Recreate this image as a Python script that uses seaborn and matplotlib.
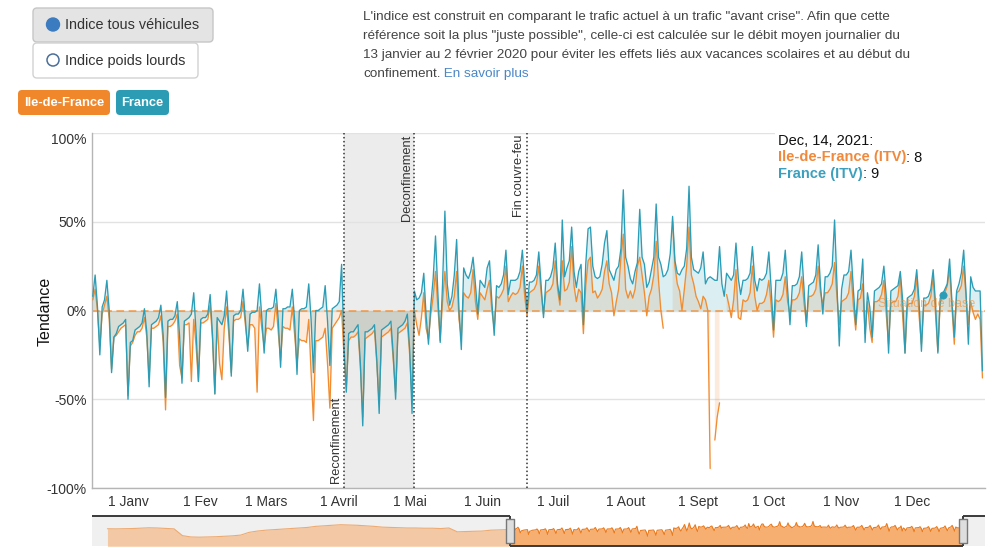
# -------------------------------------------------------
# Indice de trafic routier 2021 : Ile-de-France / France
# -------------------------------------------------------
import numpy as np
import pandas as pd
import matplotlib
matplotlib.use("Agg")
import matplotlib.pyplot as plt
import matplotlib.transforms as mtransforms
from matplotlib.patches import FancyBboxPatch, Circle, Rectangle
from matplotlib.path import Path
import seaborn as sns

# ✅ Daily index (%), one row per week (Mon..Sun), first row starts Thu 2020-12-17
START_DATE = "2020-12-17"

FRANCE_Q1 = [
    8, 20, 2, -25,
    2, 6, 17, 0, -35, -15, -13,
    -9, -8, -7, -5, -50, -18, -17,
    -11, -10, -9, -7, 1, -12, -43,
    -8, -7, -6, -4, 3, -14, -49,
    -6, -5, -5, -3, 5, -15, -41,
    -6, -5, -4, -2, 10, -12, -40,
    -5, -4, -4, -2, 9, -14, -47,
    -4, -6, -8, -3, 11, -10, -37,
    -3, -2, -2, 0, 12, -5, -23,
    -2, -1, -1, 0, 15, -4, -24,
    0, 1, 1, 2, 12, -5, -32,
    1, 1, 2, 2, 12, -6, -36,
    0, 1, 1, 2, 15, -5, -35,
    0, 0, 1, 2, 14, -6, -31,
]
FRANCE_Q2 = [
    1, 2, 3, 5, 26, -20, -46,
    -13, -12, -12, -10, -8, -30, -65,
    -12, -12, -11, -10, -8, -28, -58,
    -11, -10, -9, -8, -6, -25, -50,
    -10, -9, -8, -6, -2, -22, -58,
    11, 6, 7, 10, 21, -3, -19,
    3, 18, 42, 10, -18, 15, 56,
    15, 3, 8, 20, 40, 0, -22,
    24, 20, 18, 22, 30, 15, -2,
    17, 15, 13, 24, 28, 5, -14,
    14, 13, 15, 20, 34, 9, 17,
    17, 17, 18, 22, 34, 15, 0,
    16, 16, 17, 20, 33, 14, -4,
]
FRANCE_Q3 = [
    17, 17, 19, 24, 38, 15, 6,
    51, 19, 24, 28, 47, 22, 13,
    22, 26, -8, 26, 46, 47, 25,
    19, 18, 19, 26, 38, 45, 23,
    20, 17, 23, 25, 35, 68, 30,
    25, 18, 15, 22, 27, 57, 30,
    26, 13, 16, 23, 30, 60, 30,
    26, 19, 20, 23, 32, 53, 28,
    21, 20, 23, 25, 35, 70, 30,
    23, 22, 21, 24, 33, 15, 18,
    19, 18, 17, 17, 36, 15, 8,
    21, 19, 17, 20, 38, 18, 9,
    17, 17, 18, 21, 36, 17, 11,
]
FRANCE_Q4 = [
    18, 17, 18, 21, 33, 12, -11,
    17, 17, 17, 21, 34, 12, -8,
    14, 14, 15, 19, 33, 12, -9,
    14, 15, 16, 20, 37, 14, -2,
    19, 19, 21, 25, 51, 15, -20,
    12, 20, 20, 22, 34, 12, -8,
    11, 12, 29, -18, 10, 2, -15,
    11, 12, 13, 15, 25, 8, -24,
    11, 12, 13, 14, 22, 6, -24,
    7, 8, 9, 12, 23, 5, -23,
    7, 7, 8, 12, 23, 4, -24,
    7, 9, 12, 15, 29, 5, -15,
    11, 15, 21, 34, 10, -19, 19,
    13, 11, 11, 11, -34,
]

IDF_Q1 = [
    6, 12, 0, -20,
    -2, 3, 8, -5, -33, -15, -14,
    -12, -10, -9, -8, -48, -20, -18,
    -14, -12, -12, -10, -4, -15, -38,
    -10, -10, -9, -8, -3, -18, -56,
    -9, -9, -8, -6, -2, -31, -38,
    -8, -8, -7, -40, -5, -20, -40,
    -7, -7, -6, -5, 3, -16, -47,
    -6, -30, -39, -10, 2, -14, -35,
    -6, -5, -5, -4, 5, -8, -20,
    -8, -8, -10, -46, 2, -10, -20,
    -10, -10, -11, -9, 4, -12, -28,
    -9, -10, -10, -11, 2, -14, -30,
    -16, -17, -17, -18, -5, -35, -62,
    -17, -17, -16, -15, -10, -30, -55,
]
IDF_Q2 = [
    -10, -8, -6, -4, 0, -25, -43,
    -17, -15, -15, -14, -12, -32, -60,
    -16, -15, -14, -13, -11, -30, -52,
    -15, -14, -13, -12, -10, -28, -46,
    -13, -12, -11, -10, -7, -25, -50,
    0, -8, -14, -4, 10, -10, -16,
    -2, 8, 22, 2, -17, 5, 22,
    5, 0, 2, 8, 22, -5, -15,
    10, 8, 7, 10, 23, 5, -5,
    10, 8, 6, 12, 17, 0, -10,
    8, 7, 9, 12, 25, 5, 8,
    10, 9, 10, 13, 25, 8, -3,
    10, 11, 12, 15, 25, 10, -2,
]
IDF_Q3 = [
    10, 11, 12, 15, 28, 12, 3,
    28, 11, 12, 16, 36, 14, 5,
    12, 10, -13, 14, 28, 30, 10,
    11, 7, 9, 12, 22, 28, 15,
    10, -3, 5, 12, 30, 43, 12,
    7, 11, 7, 12, 25, 30, 20,
    10, -3, 8, 12, 20, 39, 17,
    0, -10, np.nan, np.nan, np.nan, 50, 25,
    15, 11, 0, 12, 25, 47, 20,
    15, 8, 5, 1, 8, 6, 0,
    -89, np.nan, -73, -60, -52, np.nan, np.nan,
    9, 3, -4, 6, 23, -4, -5,
    6, 5, 6, 10, 25, 8, 0,
]
IDF_Q4 = [
    4, 4, 5, 9, 17, 3, -15,
    6, 5, 6, 9, 19, 5, -2,
    6, 6, 7, 10, 19, 4, -7,
    8, 8, 9, 12, 25, 10, 4,
    10, 10, 12, 15, 27, 8, -8,
    5, 6, 7, 10, 22, 3, -11,
    6, 7, 15, -13, 5, -10, -18,
    5, 5, 6, 9, 17, -2, -19,
    4, 5, 5, 8, 19, -3, -24,
    3, 4, 4, 8, 19, -3, -19,
    3, 3, 4, 8, 19, -2, -23,
    4, 8, 10, 14, 23, 2, -19,
    10, 11, 14, 25, 8, -8, 5,
    -1, -5, -2, -5, -38,
]

# ✅ Range-selector overview for 2020 (weekly, from 2020-01-13)
NAV_START_2020 = "2020-01-13"
NAV_2020 = [
    3, 2, 3, 5, 8, 12, 10, 6, 2, -60, -72, -74, -72, -70, -66, -62, -55,
    -30, -18, -10, -5, 0, 5, 10, 15, 25, 30, 35, 40, 38, 35, 30, 25, 18,
    15, 12, 10, 10, 8, 8, 5, 10, -25, -22, -20, -18, -10, -8, -5,
]

EVENT_DATES = ["2021-04-03", "2021-05-03", "2021-06-20"]
EVENT_LABELS = ["Reconfinement", "Deconfinement", "Fin couvre-feu"]
LOCKDOWN = ("2021-04-03", "2021-05-03")

MONTH_TICKS = ["2021-01-01", "2021-02-01", "2021-03-01", "2021-04-01", "2021-05-01", "2021-06-01",
               "2021-07-01", "2021-08-01", "2021-09-01", "2021-10-01", "2021-11-01", "2021-12-01"]
MONTH_LABELS = ["1 Janv", "1 Fev", "1 Mars", "1 Avril", "1 Mai", "1 Juin",
                "1 Juil", "1 Aout", "1 Sept", "1 Oct", "1 Nov", "1 Dec"]
Y_TICKS = [-100, -50, 0, 50, 100]

HIGHLIGHT_DATE = "2021-12-14"

PARAGRAPH = [
    "L'indice est construit en comparant le trafic actuel à un trafic \"avant crise\". Afin que cette",
    "référence soit la plus \"juste possible\", celle-ci est calculée sur le débit moyen journalier du",
    "13 janvier au 2 février 2020 pour éviter les effets liés aux vacances scolaires et au début du",
    "confinement.",
]

# -------------------------------------------------------
# 📌 SETUP
# -------------------------------------------------------
sns.set_theme(style="white")
plt.rcParams["font.family"] = ["Liberation Sans", "DejaVu Sans"]

ORANGE = "#f28c30"
TEAL = "#2b9db6"
W, H = 999, 548

france = np.array(FRANCE_Q1 + FRANCE_Q2 + FRANCE_Q3 + FRANCE_Q4, dtype=float)
idf = np.array(IDF_Q1 + IDF_Q2 + IDF_Q3 + IDF_Q4, dtype=float)
dates = pd.date_range(START_DATE, periods=len(france), freq="D")

df = pd.DataFrame({"date": dates, "France": france, "Ile-de-France": idf})
long = df.melt(id_vars="date", var_name="serie", value_name="indice")
long["seg"] = long.groupby("serie")["indice"].transform(lambda s: s.isna().cumsum())
long = long.dropna()

x_min = pd.Timestamp("2020-12-16 16:00")
x_max = pd.Timestamp("2022-01-01 02:00")


def fx(x):
    return x / W


def fy(y):
    return 1 - y / H


fig = plt.figure(figsize=(W / 100, H / 100), dpi=100)
ui = fig.add_axes([0, 0, 1, 1])
ui.set_xlim(0, W)
ui.set_ylim(H, 0)
ui.axis("off")
ax = fig.add_axes([fx(92), fy(488), (985 - 92) / W, (488 - 133) / H])
nav = fig.add_axes([fx(92), fy(546), (985 - 92) / W, 30 / H])

# -------------------------------------------------------
# 📌 HEADER : radio buttons, series buttons, paragraph
# -------------------------------------------------------
ui.add_patch(FancyBboxPatch((33, 8), 180, 34, boxstyle="round,pad=0,rounding_size=4",
                            fc="#e4e4e4", ec="#c6c6c6", lw=1))
ui.add_patch(FancyBboxPatch((33, 43), 165, 35, boxstyle="round,pad=0,rounding_size=4",
                            fc="white", ec="#d2d2d2", lw=1))
ui.add_patch(Circle((53, 24.5), 6.5, fc="#3b7bbf", ec="#3b7bbf"))
ui.add_patch(Circle((53, 60), 6, fc="white", ec="#4b6f99", lw=1.1))
ui.text(65, 25, "Indice tous véhicules", va="center", fontsize=10.4, color="#333333")
ui.text(65, 60.5, "Indice poids lourds", va="center", fontsize=10.4, color="#333333")

ui.add_patch(FancyBboxPatch((18, 90), 92, 25, boxstyle="round,pad=0,rounding_size=4", fc="#f0872b", ec="none"))
ui.text(64, 102.5, "Ile-de-France", ha="center", va="center", color="white", weight="bold", fontsize=9.3)
ui.add_patch(FancyBboxPatch((116, 90), 53, 25, boxstyle="round,pad=0,rounding_size=4", fc="#2b9cb4", ec="none"))
ui.text(142.5, 102.5, "France", ha="center", va="center", color="white", weight="bold", fontsize=9.3)

for i, line in enumerate(PARAGRAPH):
    t = ui.text(363, 17 + i * 19, line, va="center", fontsize=9.7, color="#444444")
ui.annotate(" En savoir plus", xy=(1, 0), xycoords=t, va="bottom", ha="left", fontsize=9.7, color="#4a87c6")

fig.text(fx(45), fy(311), "Tendance", rotation=90, ha="center", va="center", fontsize=11.5, color="#111111")

# -------------------------------------------------------
# 📌 MAIN CHART
# -------------------------------------------------------
ax.axvspan(pd.Timestamp(LOCKDOWN[0]), pd.Timestamp(LOCKDOWN[1]), color="#ececec", lw=0, zorder=0)
ax.fill_between(dates, 0, idf, color=ORANGE, alpha=0.17, lw=0, zorder=1)
ax.fill_between(dates, 0, france, color=TEAL, alpha=0.17, lw=0, zorder=1)
ax.axhline(0, color=ORANGE, lw=1.1, ls=(0, (5, 3)), alpha=0.85, zorder=2)

sns.lineplot(data=long, x="date", y="indice", hue="serie", units="seg", estimator=None,
             hue_order=["Ile-de-France", "France"],
             palette={"Ile-de-France": ORANGE, "France": TEAL},
             lw=0.95, legend=False, ax=ax, zorder=3)

for d, lab in zip(EVENT_DATES, EVENT_LABELS):
    d = pd.Timestamp(d)
    ax.axvline(d, color="#333333", ls=(0, (1, 1.6)), lw=1.1, zorder=4)
    if lab == "Reconfinement":
        ax.text(d - pd.Timedelta(hours=18), -97, lab, rotation=90, ha="right", va="bottom",
                fontsize=9.3, color="#333333", zorder=5)
    else:
        ax.text(d - pd.Timedelta(hours=18), 99, lab, rotation=90, ha="right", va="top",
                fontsize=9.3, color="#333333", zorder=5)

ax.text(0.989, 0.5, "Situation de base", transform=ax.get_yaxis_transform(), ha="right", va="bottom",
        fontsize=9, color=ORANGE, alpha=0.6, zorder=5)

hl = pd.Timestamp(HIGHLIGHT_DATE)
hl_fr = df.loc[df["date"] == hl, "France"].iloc[0]
hl_idf = df.loc[df["date"] == hl, "Ile-de-France"].iloc[0]
sns.scatterplot(x=[hl], y=[hl_fr], color=TEAL, s=28, edgecolor=TEAL, ax=ax, zorder=6, legend=False)

ax.set_xlim(x_min, x_max)
ax.set_ylim(-100, 100)
ax.set_yticks(Y_TICKS)
ax.set_yticklabels([f"{v}%" for v in Y_TICKS])
ax.set_xticks(pd.to_datetime(MONTH_TICKS))
ax.set_xticklabels(MONTH_LABELS)
ax.tick_params(axis="both", length=0, labelsize=10, labelcolor="#333333")
ax.tick_params(axis="y", pad=4)
ax.tick_params(axis="x", pad=5)
ax.grid(axis="y", color="#e2e2e2", lw=1)
ax.grid(axis="x", visible=False)
ax.set_xlabel("")
ax.set_ylabel("")
for s in ["top", "right"]:
    ax.spines[s].set_visible(False)
for s in ["left", "bottom"]:
    ax.spines[s].set_color("#b5b5b5")
    ax.spines[s].set_linewidth(1)

# top tick label sits a little inside the plot, as in the original widget
top_lab = ax.get_yticklabels()[-1]
top_lab.set_transform(top_lab.get_transform() + mtransforms.ScaledTranslation(0, -4 / 72, fig.dpi_scale_trans))

# legend block (top right)
ax.add_patch(Rectangle((fx(775), fy(186)), (985 - 775) / W, (186 - 128) / H, transform=fig.transFigure,
                       fc="white", ec="none", zorder=7, clip_on=False))
ax.text(fx(778), fy(141), f"{hl.strftime('%b')}, {hl.day}, {hl.year}:", transform=fig.transFigure,
        va="center", fontsize=10.5, color="#111111", zorder=8)
t1 = ax.text(fx(778), fy(157.5), "Ile-de-France (ITV)", transform=fig.transFigure, va="center",
             fontsize=10.5, color="#f0893b", weight="bold", zorder=8)
ax.annotate(f": {int(hl_idf)}", xy=(1, 0), xycoords=t1, va="bottom", ha="left", fontsize=10.5,
            color="#111111", zorder=8)
t2 = ax.text(fx(778), fy(174), "France (ITV)", transform=fig.transFigure, va="center",
             fontsize=10.5, color="#3aa0bd", weight="bold", zorder=8)
ax.annotate(f": {int(hl_fr)}", xy=(1, 0), xycoords=t2, va="bottom", ha="left", fontsize=10.5,
            color="#111111", zorder=8)

# -------------------------------------------------------
# 📌 RANGE SELECTOR
# -------------------------------------------------------
nav_dates = list(pd.date_range(NAV_START_2020, periods=len(NAV_2020), freq="7D")) + list(dates)
nav_vals = np.array(NAV_2020 + list(france), dtype=float)
nav_lo, nav_hi = -155, 120
nav_x0 = pd.Timestamp("2019-12-31")
nav_x1 = pd.Timestamp("2022-01-19 14:00")

nav.set_facecolor("#efefef")
nav.axvspan(x_min, x_max, color="white", lw=0, zorder=0)
nav.fill_between(nav_dates, nav_lo, nav_vals, color="#f5a662", alpha=0.9, lw=0, zorder=1)
sns.lineplot(x=nav_dates, y=nav_vals, color="#ea7a1c", lw=0.8, ax=nav, zorder=2)
nav.axvspan(nav_x0, x_min, color="#f3f3f3", alpha=0.4, lw=0, zorder=3)
nav.axvspan(x_max, nav_x1, color="#f3f3f3", alpha=0.4, lw=0, zorder=3)

tr = nav.get_xaxis_transform()
frame = dict(color="#3a3a3a", lw=1.4, transform=tr, zorder=4, clip_on=False, solid_capstyle="butt")
nav.plot([nav_x0, x_min], [1, 1], **frame)
nav.plot([x_min, x_min], [0, 1], **frame)
nav.plot([x_min, x_max], [0, 0], **frame)
nav.plot([x_max, x_max], [0, 1], **frame)
nav.plot([x_max, nav_x1], [1, 1], **frame)

handle = Path([(-0.35, -1), (0.35, -1), (0.35, 1), (-0.35, 1), (-0.35, -1)],
              [Path.MOVETO, Path.LINETO, Path.LINETO, Path.LINETO, Path.CLOSEPOLY])
for hx in [x_min, x_max]:
    nav.plot([hx], [0.5], marker=handle, ms=17, mfc="#dedede", mec="#777777", mew=1,
             transform=tr, zorder=5, clip_on=False)

nav.set_xlim(nav_x0, nav_x1)
nav.set_ylim(nav_lo, nav_hi)
nav.set_xticks([])
nav.set_yticks([])
nav.set_xlabel("")
nav.set_ylabel("")
for s in nav.spines.values():
    s.set_visible(False)

fig.savefig("out.png", dpi=100)
